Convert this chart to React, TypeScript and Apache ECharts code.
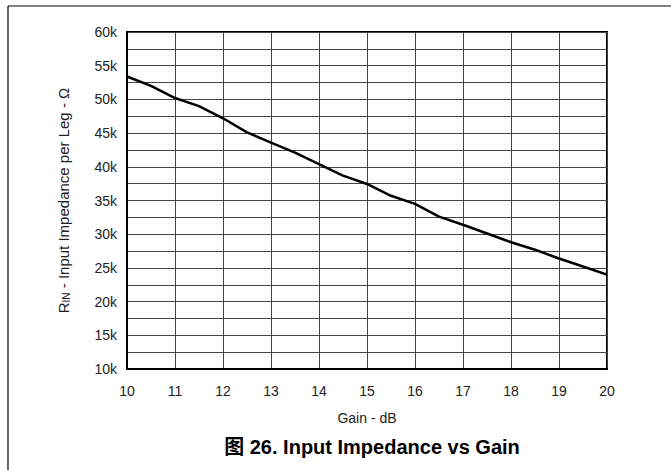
import React, { useEffect, useRef } from "react";
import * as echarts from "echarts";

const gainDb = [10, 10.5, 11, 11.5, 12, 12.5, 13, 13.5, 14, 14.5, 15, 15.5, 16, 16.5, 17, 17.5, 18, 18.5, 19, 19.5, 20];
const impedanceOhm = [53400, 52000, 50200, 49000, 47200, 45100, 43600, 42100, 40400, 38700, 37450, 35700, 34500, 32600, 31400, 30100, 28800, 27700, 26400, 25200, 24000];
const xTicks = [10, 11, 12, 13, 14, 15, 16, 17, 18, 19, 20];
const yLabelValues = [10000, 15000, 20000, 25000, 30000, 35000, 40000, 45000, 50000, 55000, 60000];

const FONT = "'Liberation Sans', Arial, 'Noto Sans CJK SC', sans-serif";

export default function App() {
  const ref = useRef<HTMLDivElement>(null);
  useEffect(() => {
    if (!ref.current) return;
    const chart = echarts.init(ref.current, undefined, { renderer: "svg" });
    const data = gainDb.map((g, i) => [g, impedanceOhm[i]]);
    chart.setOption({
      animation: false,
      backgroundColor: "#fff",
      grid: {
        left: 127,
        top: 32,
        width: 480,
        height: 337,
        show: true,
        borderColor: "#000",
        borderWidth: 2,
        backgroundColor: "transparent",
      },
      xAxis: {
        type: "value",
        min: xTicks[0],
        max: xTicks[xTicks.length - 1],
        interval: 1,
        axisLine: { show: true, onZero: false, lineStyle: { color: "#000", width: 2 } },
        axisTick: { show: false },
        axisLabel: { margin: 15, color: "#222", fontSize: 14, fontFamily: FONT },
        splitLine: { show: true, lineStyle: { color: "#444", width: 1 } },
      },
      yAxis: {
        type: "value",
        min: yLabelValues[0],
        max: yLabelValues[yLabelValues.length - 1],
        interval: 2500,
        axisLine: { show: true, lineStyle: { color: "#000", width: 2 } },
        axisTick: { show: false },
        axisLabel: {
          margin: 10,
          color: "#222",
          fontSize: 14,
          fontFamily: FONT,
          formatter: (v: number) => (yLabelValues.includes(v) ? v / 1000 + "k" : ""),
        },
        splitLine: { show: true, lineStyle: { color: "#444", width: 1 } },
        name: "{r|R}{sub|IN}{r| - Input Impedance per Leg - Ω}",
        nameLocation: "middle",
        nameRotate: 90,
        nameGap: 56,
        nameTextStyle: {
          color: "#222",
          fontFamily: FONT,
          rich: {
            r: { fontSize: 15, color: "#222", fontFamily: FONT },
            sub: { fontSize: 10, color: "#222", fontFamily: FONT, verticalAlign: "bottom", padding: [6, 0, 0, 0] },
          },
        },
      },
      series: [
        {
          type: "line",
          data,
          showSymbol: false,
          lineStyle: { color: "#000", width: 2.5 },
          smooth: false,
        },
      ],
      graphic: [
        { type: "line", shape: { x1: 8, y1: 6, x2: 671, y2: 6 }, style: { stroke: "#000", lineWidth: 1.2 } },
        { type: "line", shape: { x1: 8, y1: 6, x2: 8, y2: 470 }, style: { stroke: "#000", lineWidth: 1.2 } },
        {
          type: "text",
          x: 367,
          y: 418,
          style: { text: "Gain - dB", fontSize: 14, fontFamily: FONT, fill: "#222", align: "center", verticalAlign: "middle" },
        },
        {
          type: "text",
          x: 372,
          y: 447,
          style: {
            text: "图 26. Input Impedance vs Gain",
            fontSize: 20,
            fontWeight: "bold",
            fontFamily: FONT,
            fill: "#000",
            align: "center",
            verticalAlign: "middle",
          },
        },
      ],
    });
    return () => chart.dispose();
  }, []);
  return <div ref={ref} style={{ position: "fixed", left: 0, top: 0, width: 671, height: 470 }} />;
}
